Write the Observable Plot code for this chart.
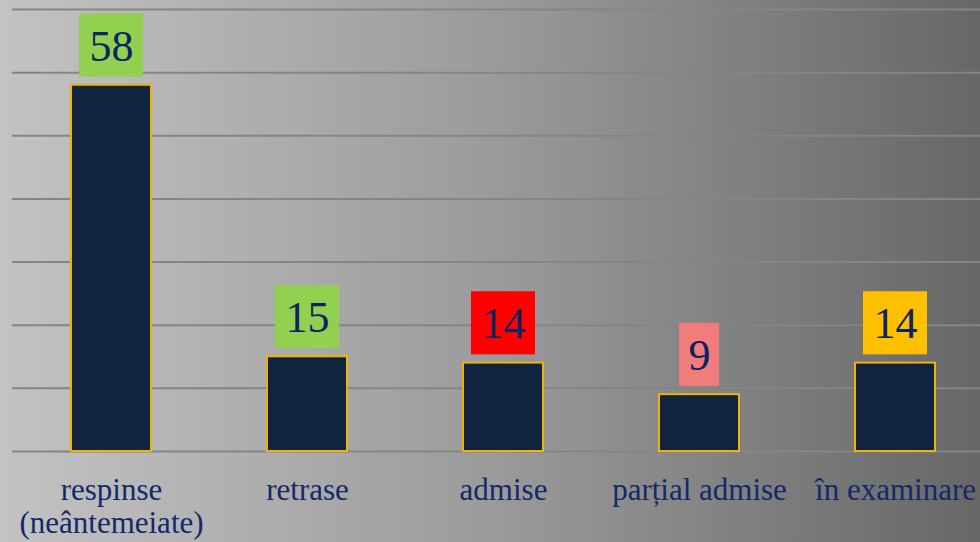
<!DOCTYPE html>
<html>
<head>
<meta charset="utf-8">
<script src="https://cdn.jsdelivr.net/npm/d3@7"></script>
<script src="https://cdn.jsdelivr.net/npm/@observablehq/plot@0.6"></script>
<style>
  html, body { margin: 0; padding: 0; overflow: hidden; }
  body { width: 980px; height: 542px; }
</style>
</head>
<body>
<div id="chart"></div>
<script>
const categories = ["respinse\n(neântemeiate)", "retrase", "admise", "parțial admise", "în examinare"];
const values = [58, 15, 14, 9, 14];
const labelColors = ["#92d050", "#92d050", "#ff0000", "#f27c7c", "#ffc000"];
const gridTicks = [0, 10, 20, 30, 40, 50, 60, 70];

const data = categories.map((c, i) => ({cat: c, value: values[i], color: labelColors[i], label: String(values[i])}));
const twoDigit = data.filter(d => d.label.length === 2);
const oneDigit = data.filter(d => d.label.length === 1);

const boxLo = 1.3, boxHi = 11.3;

const chart = Plot.plot({
  width: 980,
  height: 542,
  marginTop: 9,
  marginBottom: 91,
  marginLeft: 12,
  marginRight: 0,
  style: {
    background: "linear-gradient(to right, #c3c3c3 0%, #9b9b9b 50%, #676767 100%)",
    fontFamily: "'Liberation Serif', 'Times New Roman', serif",
    overflow: "visible"
  },
  x: {domain: categories, range: [12, 994], paddingInner: 0.59, paddingOuter: 0.295, axis: null},
  y: {domain: [0, 70], axis: null},
  marks: [
    Plot.ruleY(gridTicks, {stroke: "#858585", strokeWidth: 2}),
    Plot.barY(data, {x: "cat", y: "value", fill: "#10233f", stroke: "#f0b400", strokeWidth: 2}),
    Plot.barY(twoDigit, {x: "cat", y1: d => d.value + boxLo, y2: d => d.value + boxHi, fill: "color", insetLeft: 8, insetRight: 8}),
    Plot.barY(oneDigit, {x: "cat", y1: d => d.value + boxLo, y2: d => d.value + boxHi, fill: "color", insetLeft: 20, insetRight: 20}),
    Plot.text(data, {x: "cat", y: d => d.value + (boxLo + boxHi) / 2, text: "label", fontSize: 44, fill: "#0c2461", lineAnchor: "middle", dy: 1}),
    Plot.text(data, {x: "cat", y: 0, text: "cat", fontSize: 31, fill: "#13296b", lineAnchor: "top", dy: 25, lineHeight: 1.07})
  ]
});
document.getElementById("chart").appendChild(chart);
</script>
</body>
</html>
